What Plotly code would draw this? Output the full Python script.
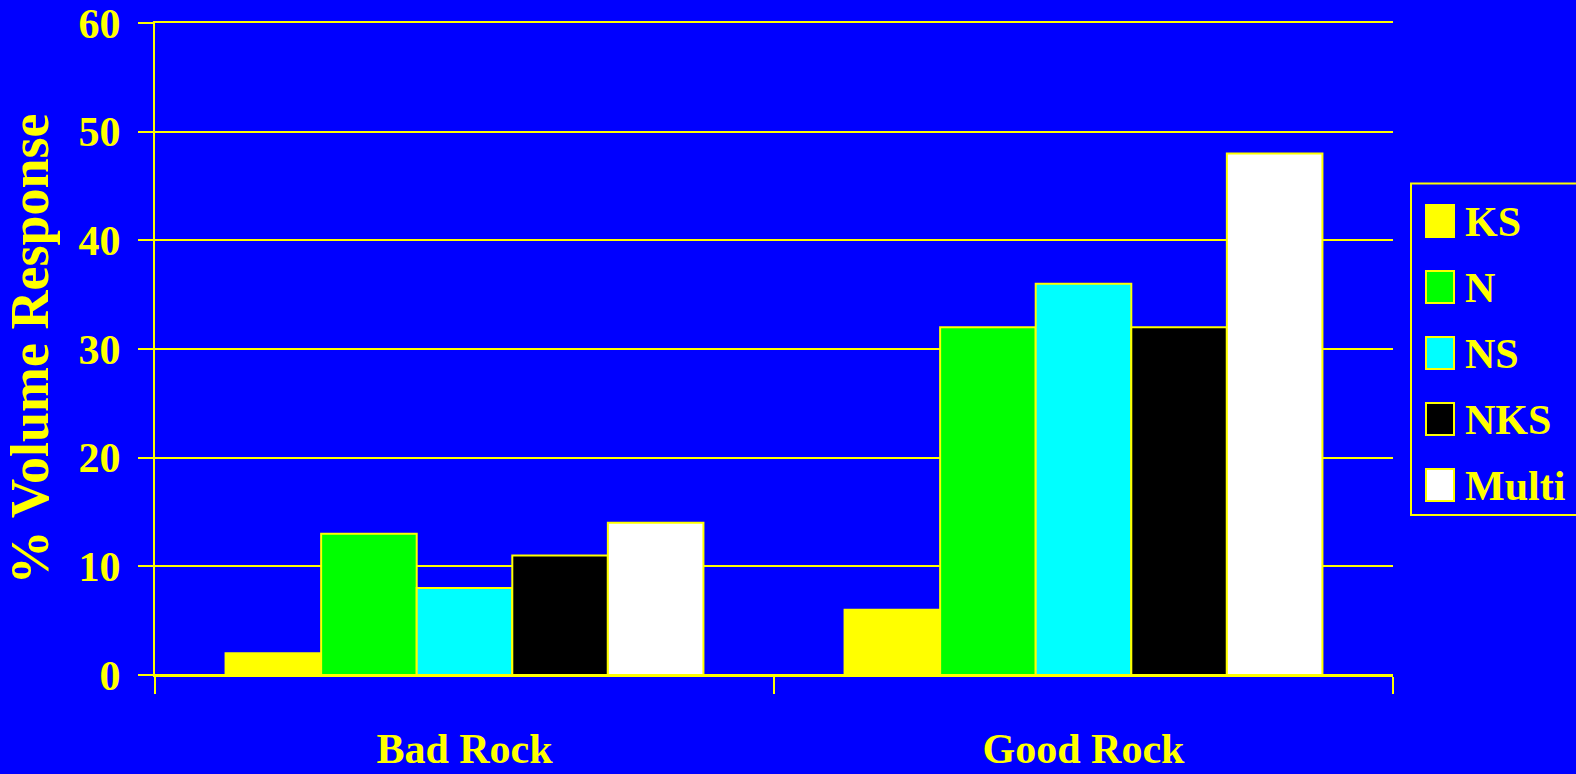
import plotly.graph_objects as go

categories = ["Bad Rock", "Good Rock"]
series_names = ["KS", "N", "NS", "NKS", "Multi"]
ks = [2, 6]
n = [13, 32]
ns = [8, 36]
nks = [11, 32]
multi = [14, 48]
series_values = [ks, n, ns, nks, multi]
colors = ["#FFFF00", "#00FF00", "#00FFFF", "#000000", "#FFFFFF"]
y_ticks = [0, 10, 20, 30, 40, 50, 60]

BLUE = "#0000FF"
YEL = "#FFFF00"
FONT = "Liberation Serif"

W, H = 1576, 774
L, R, T, B = 155, 183, 23, 99

fig = go.Figure()
for name, vals, col in zip(series_names, series_values, colors):
    fig.add_trace(go.Bar(
        name=name, x=categories, y=vals,
        marker=dict(color=col, line=dict(color=YEL, width=2)),
        showlegend=False,
    ))

def px_x(px):
    return (px - L) / (W - L - R)

def px_y(py):
    return (H - B - py) / (H - T - B)

shapes = []
annotations = []
# legend frame
shapes.append(dict(type="rect", xref="paper", yref="paper",
                   x0=px_x(1411), x1=px_x(1590), y0=px_y(515), y1=px_y(183.5),
                   line=dict(color=YEL, width=2), fillcolor=BLUE, layer="above"))
centers = [221, 287, 353, 419, 485]
for name, col, cy in zip(series_names, colors, centers):
    shapes.append(dict(type="rect", xref="paper", yref="paper",
                       x0=px_x(1426), x1=px_x(1454), y0=px_y(cy + 16), y1=px_y(cy - 16),
                       line=dict(color=YEL, width=2), fillcolor=col, layer="above"))
    annotations.append(dict(xref="paper", yref="paper", x=px_x(1463), y=px_y(cy + 1),
                            xanchor="left", yanchor="middle", text=name, showarrow=False,
                            font=dict(family=FONT, size=42, color=YEL)))

fig.update_layout(
    width=W, height=H,
    margin=dict(l=L, r=R, t=T, b=B, pad=0, autoexpand=False),
    paper_bgcolor=BLUE, plot_bgcolor=BLUE,
    barmode="group", bargap=0.228, bargroupgap=0,
    font=dict(family=FONT, color=YEL, size=40, weight="bold"),
    shapes=shapes, annotations=annotations,
    showlegend=False,
)
fig.update_xaxes(
    type="category", tickson="boundaries", ticks="outside", ticklen=17,
    tickwidth=2, tickcolor=YEL, showgrid=False, zeroline=False,
    showline=True, mirror=True, linecolor=YEL, linewidth=2,
    tickfont=dict(family=FONT, size=42, color=YEL, weight="bold"),
    ticklabelstandoff=36, automargin=False, ticklabeloverflow="allow",
)
fig.update_yaxes(
    range=[0, 60], tickvals=y_ticks, ticks="outside", ticklen=15, tickwidth=2,
    tickcolor=YEL, showgrid=True, gridcolor=YEL, gridwidth=2,
    zeroline=True, zerolinecolor=YEL, zerolinewidth=2,
    showline=True, linecolor=YEL, linewidth=2,
    tickfont=dict(family=FONT, size=42, color=YEL, weight="bold"),
    ticklabelstandoff=9, automargin=False, ticklabeloverflow="allow",
    title=dict(text="% Volume Response", standoff=22,
               font=dict(family=FONT, size=54, color=YEL, weight="bold")),
)

fig.write_html("out.html")
